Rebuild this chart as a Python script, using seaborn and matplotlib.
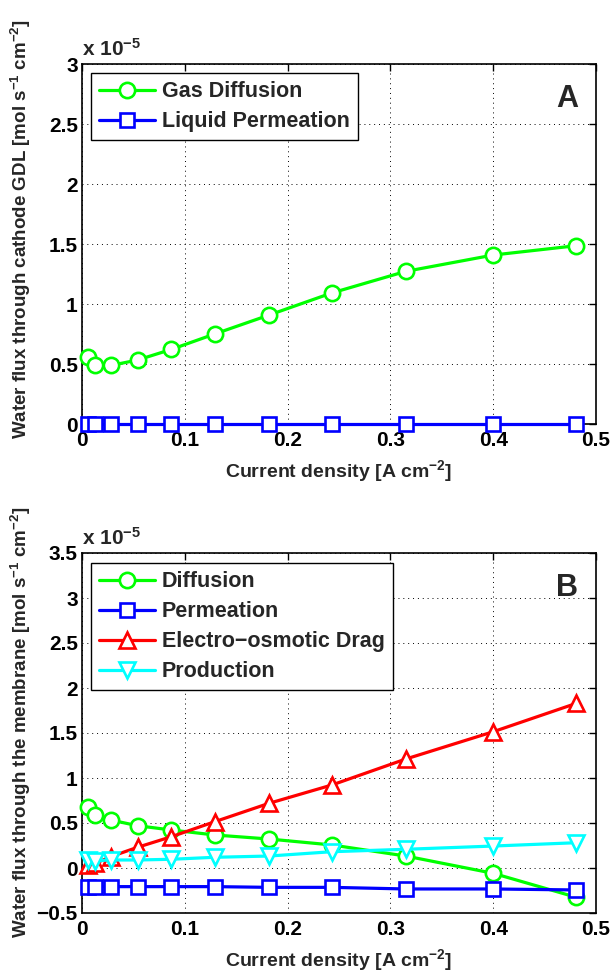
import matplotlib
matplotlib.use("Agg")
import matplotlib.pyplot as plt
import seaborn as sns
import numpy as np
from matplotlib.ticker import FuncFormatter, MultipleLocator

# ---- data (values in units of 1e-5 mol s^-1 cm^-2) ----
current_density = [0.006, 0.013, 0.028, 0.054, 0.087, 0.129, 0.182, 0.243, 0.315, 0.400, 0.481]

gas_diffusion = [0.561, 0.494, 0.488, 0.533, 0.622, 0.750, 0.908, 1.092, 1.272, 1.408, 1.486]
liquid_permeation = [0.0, 0.0, 0.0, 0.0, 0.0, 0.0, 0.0, 0.0, 0.0, 0.0, 0.0]

diffusion = [0.674, 0.589, 0.533, 0.470, 0.422, 0.367, 0.322, 0.256, 0.133, -0.059, -0.326]
permeation = [-0.207, -0.207, -0.207, -0.207, -0.207, -0.207, -0.215, -0.215, -0.233, -0.233, -0.244]
electro_osmotic_drag = [0.033, 0.052, 0.126, 0.230, 0.348, 0.514, 0.719, 0.922, 1.211, 1.514, 1.830]
production = [0.089, 0.081, 0.089, 0.089, 0.097, 0.119, 0.133, 0.181, 0.208, 0.244, 0.281]

top_labels = ["Gas Diffusion", "Liquid Permeation"]
bottom_labels = ["Diffusion", "Permeation", "Electro\u2212osmotic Drag", "Production"]

sns.set_style("white")
plt.rcParams['font.family'] = ['Liberation Sans', 'DejaVu Sans']
plt.rcParams['font.weight'] = 'bold'
plt.rcParams['axes.labelweight'] = 'bold'
plt.rcParams['mathtext.default'] = 'regular'

fig = plt.figure(figsize=(6.14, 9.73), dpi=100)
W, H = 614, 973
ax1 = fig.add_axes([82 / W, 1 - 424 / H, 514 / W, 360 / H])
ax2 = fig.add_axes([82 / W, 1 - 913 / H, 514 / W, 360 / H])

GREEN = (0, 1, 0)
BLUE = (0, 0, 1)
RED = (1, 0, 0)
CYAN = (0, 1, 1)

def plot_series(ax, y, color, marker, label, ms, z):
    sns.lineplot(x=current_density, y=y, ax=ax, color=color, marker=marker,
                 markersize=ms, markerfacecolor='white', markeredgecolor=color,
                 markeredgewidth=1.9, linewidth=2.3, label=label, sort=False,
                 estimator=None, clip_on=False, zorder=z)

plot_series(ax1, gas_diffusion, GREEN, 'o', top_labels[0], 11, 5)
plot_series(ax1, liquid_permeation, BLUE, 's', top_labels[1], 9.5, 6)

plot_series(ax2, diffusion, GREEN, 'o', bottom_labels[0], 11, 5)
plot_series(ax2, permeation, BLUE, 's', bottom_labels[1], 9.5, 6)
plot_series(ax2, electro_osmotic_drag, RED, '^', bottom_labels[2], 12, 7)
plot_series(ax2, production, CYAN, 'v', bottom_labels[3], 12, 8)

fmt = FuncFormatter(lambda v, p: ('%g' % round(v, 6)).replace('-', '\u2212'))

def style(ax, ylim, ystep, ylabel, letter, ylabel_y):
    ax.set_xlim(0, 0.5)
    ax.set_ylim(*ylim)
    ax.xaxis.set_major_locator(MultipleLocator(0.1))
    ax.yaxis.set_major_locator(MultipleLocator(ystep))
    ax.xaxis.set_major_formatter(fmt)
    ax.yaxis.set_major_formatter(fmt)
    ax.grid(True, linestyle=(0, (1, 4)), color='black', linewidth=0.7)
    ax.set_axisbelow(True)
    ax.tick_params(direction='in', length=5, width=1, top=True, right=True,
                   labelsize=15, colors='black')
    ax.tick_params(axis='x', pad=5)
    ax.tick_params(axis='y', pad=3)
    for lab in ax.get_xticklabels() + ax.get_yticklabels():
        lab.set_fontweight('bold')
    for sp in ax.spines.values():
        sp.set_visible(True)
        sp.set_color('black')
        sp.set_linewidth(1.2)
        sp.set_zorder(2)
    ax.set_xlabel("Current density [A cm$^{-2}$]", fontsize=14, fontweight='bold', labelpad=6)
    ax.set_ylabel(ylabel, fontsize=13.5, fontweight='bold')
    ax.yaxis.set_label_coords(-0.095, ylabel_y)
    ax.text(0.0, 1.012, "x 10$^{-5}$", transform=ax.transAxes, fontsize=15,
            fontweight='bold', ha='left', va='bottom')
    ax.text(0.965, 0.945, letter, transform=ax.transAxes, fontsize=22,
            fontweight='bold', ha='right', va='top')

style(ax1, (0, 3), 0.5, "Water flux through cathode GDL [mol s$^{-1}$ cm$^{-2}$]", "A", 0.54)
style(ax2, (-0.5, 3.5), 0.5, "Water flux through the membrane [mol s$^{-1}$ cm$^{-2}$]", "B", 0.53)

def make_legend(ax, top_y):
    leg = ax.legend(loc='upper left', bbox_to_anchor=(9 / 514, top_y), borderaxespad=0,
                    fontsize=15.5, frameon=True, fancybox=False, framealpha=1,
                    edgecolor='black', handlelength=2.6, handletextpad=0.3,
                    labelspacing=0.42, numpoints=1, borderpad=0.38)
    leg.get_frame().set_linewidth(1.0)
    leg.set_zorder(20)
    for t in leg.get_texts():
        t.set_fontweight('bold')

make_legend(ax1, 1 - 9 / 360)
make_legend(ax2, 1 - 10 / 360)

fig.savefig("out.png", dpi=100, facecolor='white')
